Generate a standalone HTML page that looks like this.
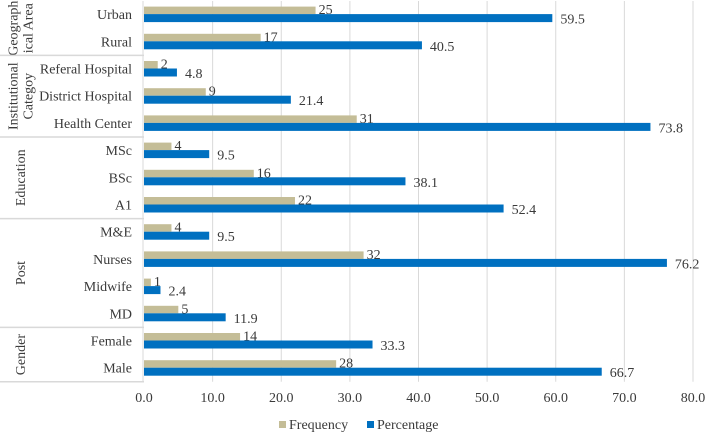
<!DOCTYPE html>
<html><head><meta charset="utf-8"><style>
body{margin:0;background:#fff;}
svg text{font-family:"Liberation Serif",serif;fill:#3a3a3a;}
</style></head><body>
<svg id="c" width="708" height="433"></svg>
<script>
const categories=["Urban","Rural","Referal Hospital","District Hospital","Health Center","MSc","BSc","A1","M&E","Nurses","Midwife","MD","Female","Male"];
const frequency=[25,17,2,9,31,4,16,22,4,32,1,5,14,28];
const percentage=[59.5,40.5,4.8,21.4,73.8,9.5,38.1,52.4,9.5,76.2,2.4,11.9,33.3,66.7];
const groups=[{name:["Geograph","ical Area"],start:0,end:2},{name:["Institutional","Categoy"],start:2,end:5},{name:["Education"],start:5,end:8},{name:["Post"],start:8,end:12},{name:["Gender"],start:12,end:14}];
const ticks=[0,10,20,30,40,50,60,70,80];
const NS="http://www.w3.org/2000/svg";
const svg=document.getElementById('c');
const X0=144,X1=693,TOP=1,ROWH=27.2;
const x=v=>X0+(v/80)*(X1-X0);
const yc=i=>TOP+ROWH*i+ROWH/2;
function el(t,a,p){const e=document.createElementNS(NS,t);for(const k in a)e.setAttribute(k,a[k]);(p||svg).appendChild(e);return e;}
const BOT=TOP+ROWH*categories.length;
ticks.forEach(t=>{
 if(t>0){const g=el('line',{x1:x(t),x2:x(t),y1:TOP,y2:BOT,stroke:'#d9d9d9','stroke-width':1});
 
 }
 const l=el('text',{x:x(t),y:402,'text-anchor':'middle','font-size':14});l.textContent=t.toFixed(1);
 
 
});
const ax=el('line',{x1:X0-1,x2:X0-1,y1:TOP,y2:BOT,stroke:'#d9d9d9'});


categories.forEach((c,i)=>{
 const y=yc(i);
 const t=el('text',{x:132,y:y+4.5,'text-anchor':'end','font-size':14});t.textContent=c;
 
 
 const b1=el('rect',{x:X0,y:y-8,width:x(frequency[i])-X0,height:7.5,fill:'#c4bd97'});
 
 
 const b2=el('rect',{x:X0,y:y-0.5,width:x(percentage[i])-X0,height:8,fill:'#0070c0'});
 
 
 const l1=el('text',{x:x(frequency[i])+3,y:y-0.5,'font-size':14});l1.textContent=frequency[i];
 
 
 const l2=el('text',{x:x(percentage[i])+8,y:y+9,'font-size':14});l2.textContent=percentage[i].toFixed(1);
 
 
});
groups.forEach((g,gi)=>{
 const ys=TOP+ROWH*g.start,ye=TOP+ROWH*g.end;
 if(gi>0){const s=el('line',{x1:0,x2:X0,y1:ys,y2:ys,stroke:'#d9d9d9','stroke-width':1.5});
 
 }
 const cy=(ys+ye)/2;
 const n=g.name.length;
 g.name.forEach((ln,k)=>{
  const xx=20+(k-(n-1)/2)*15+5;
  const t=el('text',{x:xx,y:cy,'text-anchor':'middle','font-size':14,transform:`rotate(-90 ${xx} ${cy})`});t.textContent=ln;
  
  
 });
});
const bl=el('line',{x1:0,x2:X0,y1:BOT,y2:BOT,stroke:'#d9d9d9','stroke-width':1.5});


const lg=el('g',{});


const r1=el('rect',{x:279,y:421,width:7,height:7,fill:'#c4bd97'},lg);


const t1=el('text',{x:289,y:429,'font-size':14},lg);t1.textContent='Frequency';


const r2=el('rect',{x:367,y:421,width:7,height:7,fill:'#0070c0'},lg);


const t2=el('text',{x:377,y:429,'font-size':14},lg);t2.textContent='Percentage';


</script>
</body></html>
